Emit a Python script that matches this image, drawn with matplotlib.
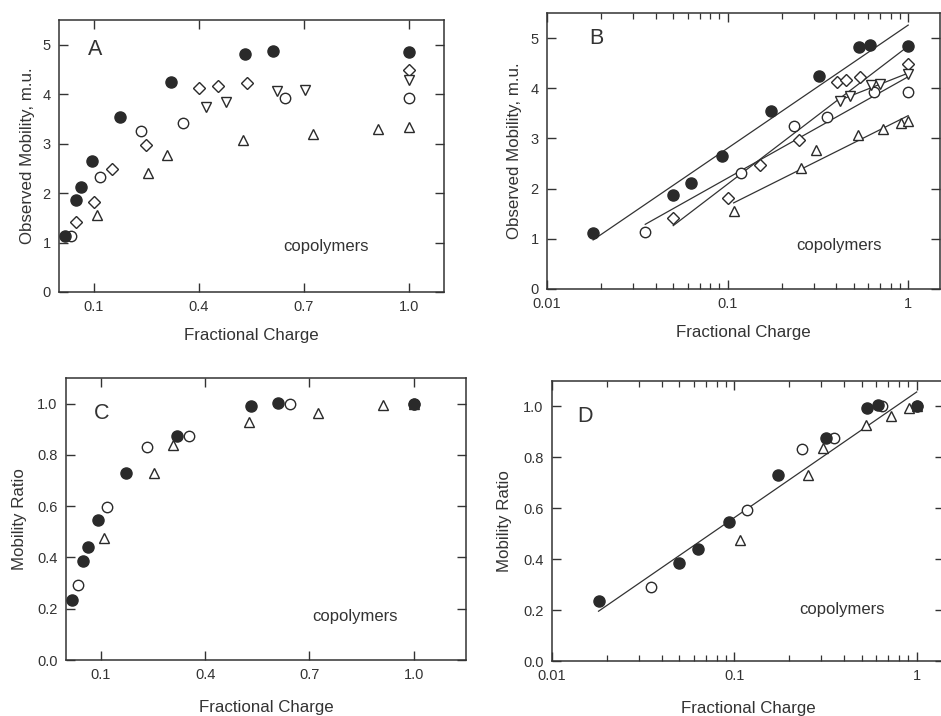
import numpy as np
import matplotlib.pyplot as plt
from matplotlib.ticker import FixedLocator, FuncFormatter, LogLocator, NullFormatter

plt.rcParams['font.family'] = ['Liberation Sans', 'DejaVu Sans']

# fractional charge for each series
x_fill = [0.018, 0.050, 0.063, 0.093, 0.174, 0.320, 0.531, 0.611, 1.0]
x_open = [0.035, 0.118, 0.234, 0.354, 0.645, 1.0]
x_diam = [0.050, 0.100, 0.151, 0.248, 0.401, 0.454, 0.538, 1.0]
x_down = [0.420, 0.476, 0.622, 0.702, 1.0]
x_up = [0.108, 0.254, 0.308, 0.525, 0.725, 0.911, 1.0]

# observed mobility (m.u.)
mob_fill = [1.125, 1.87, 2.12, 2.65, 3.54, 4.25, 4.82, 4.87, 4.85]
mob_open = [1.14, 2.32, 3.25, 3.42, 3.93, 3.93]
mob_diam = [1.415, 1.82, 2.48, 2.965, 4.13, 4.17, 4.225, 4.48]
mob_down = [3.74, 3.84, 4.06, 4.08, 4.28]
mob_up = [1.55, 2.41, 2.76, 3.07, 3.19, 3.30, 3.34]

# mobility ratio
rat_fill = [0.234, 0.386, 0.439, 0.548, 0.731, 0.875, 0.992, 1.004, 1.0]
rat_open = [0.292, 0.595, 0.831, 0.875, 1.0, 1.0]
rat_up = [0.474, 0.73, 0.838, 0.929, 0.962, 0.995, 1.0]

dark = '#2a2a2a'
tcol = '#333333'

mob_series = [
    (x_open, mob_open, dict(marker='o', ms=7.5, mfc='white', mec=dark)),
    (x_diam, mob_diam, dict(marker='D', ms=6.2, mfc='white', mec=dark)),
    (x_down, mob_down, dict(marker='v', ms=7.5, mfc='white', mec=dark)),
    (x_up, mob_up, dict(marker='^', ms=7.5, mfc='white', mec=dark)),
    (x_fill, mob_fill, dict(marker='o', ms=8, mfc=dark, mec=dark)),
]
rat_series = [
    (x_open, rat_open, dict(marker='o', ms=7.5, mfc='white', mec=dark)),
    (x_up, rat_up, dict(marker='^', ms=7.5, mfc='white', mec=dark)),
    (x_fill, rat_fill, dict(marker='o', ms=8, mfc=dark, mec=dark)),
]


def style(ax, letter, lx, ly, cx, cy, xpad):
    for s in ax.spines.values():
        s.set_color(tcol)
        s.set_linewidth(1.1)
    ax.tick_params(which='major', direction='in', top=True, right=True,
                   length=6.5, width=1.0, color=tcol, labelsize=10.5,
                   labelcolor=tcol, pad=6)
    ax.tick_params(which='minor', direction='in', top=True, right=True,
                   length=4, width=0.9, color=tcol)
    ax.set_xlabel('Fractional Charge', fontsize=12.2, color=tcol, labelpad=xpad)
    ax.text(lx, ly, letter, transform=ax.transAxes, fontsize=15.5,
            color=tcol, ha='center', va='center')
    ax.text(cx, cy, 'copolymers', transform=ax.transAxes, fontsize=12,
            color=tcol, ha='center', va='center')


def log_axis(ax, right):
    ax.set_xscale('log')
    ax.set_xlim(0.01, right)
    ax.xaxis.set_major_locator(FixedLocator([0.01, 0.1, 1]))
    ax.xaxis.set_major_formatter(FuncFormatter(lambda v, p: '%g' % v))
    ax.xaxis.set_minor_locator(LogLocator(base=10, subs=np.arange(2, 10)))
    ax.xaxis.set_minor_formatter(NullFormatter())


def fit_line(ax, xs, ys):
    lx = np.log10(xs)
    k, b = np.polyfit(lx, ys, 1)
    xx = np.array([min(xs), max(xs)])
    ax.plot(xx, k * np.log10(xx) + b, color=tcol, lw=0.9, zorder=1)


fig = plt.figure(figsize=(9.41, 7.16), dpi=100)
axA = fig.add_axes([0.0627, 0.5922, 0.4091, 0.3799])
axB = fig.add_axes([0.5813, 0.5964, 0.4176, 0.3855])
axC = fig.add_axes([0.0701, 0.0782, 0.4251, 0.3939])
axD = fig.add_axes([0.5866, 0.0768, 0.4171, 0.3911])

# A: linear x
for xs, ys, kw in mob_series:
    axA.plot(xs, ys, ls='none', mew=1.0, zorder=3, **kw)
axA.set_xlim(0, 1.1)
axA.set_ylim(0, 5.5)
axA.xaxis.set_major_locator(FixedLocator([0.1, 0.4, 0.7, 1.0]))
axA.set_yticks([0, 1, 2, 3, 4, 5])
axA.set_ylabel('Observed Mobility, m.u.', fontsize=12.2, color=tcol, labelpad=5)
style(axA, 'A', 0.094, 0.89, 0.693, 0.169, 10)

# B: log x with fits
for xs, ys, kw in mob_series:
    axB.plot(xs, ys, ls='none', mew=1.0, zorder=3, **kw)
    fit_line(axB, xs, ys)
log_axis(axB, 1.5)
axB.set_ylim(0, 5.5)
axB.set_yticks([0, 1, 2, 3, 4, 5])
axB.set_ylabel('Observed Mobility, m.u.', fontsize=12.2, color=tcol, labelpad=6)
style(axB, 'B', 0.125, 0.908, 0.743, 0.156, 10)

# C: ratio, linear x
for xs, ys, kw in rat_series:
    axC.plot(xs, ys, ls='none', mew=1.0, zorder=3, **kw)
axC.set_xlim(0, 1.15)
axC.set_ylim(0, 1.1)
axC.xaxis.set_major_locator(FixedLocator([0.1, 0.4, 0.7, 1.0]))
axC.set_yticks([0, 0.2, 0.4, 0.6, 0.8, 1.0])
axC.yaxis.set_major_formatter(FuncFormatter(lambda v, p: '%.1f' % v))
axC.set_ylabel('Mobility Ratio', fontsize=12.2, color=tcol, labelpad=7)
style(axC, 'C', 0.089, 0.875, 0.7225, 0.154, 13)

# D: ratio, log x, one pooled fit
for xs, ys, kw in rat_series:
    axD.plot(xs, ys, ls='none', mew=1.0, zorder=3, **kw)
fit_line(axD, x_fill + x_open + x_up, rat_fill + rat_open + rat_up)
log_axis(axD, 1.42)
axD.set_ylim(0, 1.1)
axD.set_yticks([0, 0.2, 0.4, 0.6, 0.8, 1.0])
axD.yaxis.set_major_formatter(FuncFormatter(lambda v, p: '%.1f' % v))
axD.set_ylabel('Mobility Ratio', fontsize=12.2, color=tcol, labelpad=8)
style(axD, 'D', 0.083, 0.872, 0.74, 0.185, 13)

fig.savefig('out.png', dpi=100)
